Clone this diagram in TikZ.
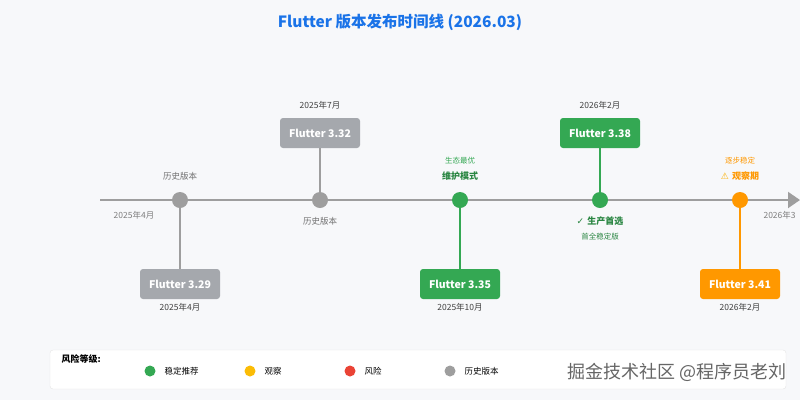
\documentclass[tikz,border=0pt]{standalone}
\usepackage{fontspec}
\setmainfont{Noto Sans CJK SC}
\usetikzlibrary{arrows.meta}
\definecolor{bg}{HTML}{F7F8FA}
\definecolor{gr}{HTML}{9E9E9E}
\definecolor{gbox}{HTML}{A5A8AD}
\definecolor{grn}{HTML}{34A853}
\definecolor{org}{HTML}{FF9800}
\definecolor{ylw}{HTML}{FBBC05}
\definecolor{red}{HTML}{EA4335}
\definecolor{ttl}{HTML}{1A73E8}
\tikzset{
  ver/.style={rounded corners=3pt, text=white, font=\bfseries\fontsize{10.5}{12}\selectfont, minimum width=80pt, minimum height=30pt, inner sep=0pt},
  dot/.style={circle, minimum size=16pt, inner sep=0pt},
  small/.style={font=\fontsize{7.5}{8}\selectfont},
  lab/.style={font=\fontsize{8.5}{9}\selectfont},
  blab/.style={font=\bfseries\fontsize{9}{10}\selectfont}
}
\begin{document}
\begin{tikzpicture}[x=1pt,y=-1pt]
\fill[bg] (0,0) rectangle (800,400);
\useasboundingbox (0,0) rectangle (800,400);
\node[text=ttl, font=\bfseries\fontsize{15.5}{17}\selectfont] (title) at (400,22) {Flutter 版本发布时间线 (2026.03)};
\coordinate (axs) at (100,200);
\coordinate (axe) at (800,200);
\draw[gr, line width=2pt, -{Triangle[length=12pt,width=16pt]}] (axs) -- (axe);
\node[dot, fill=gr] (d1) at (180,200) {};
\node[dot, fill=gr] (d2) at (320,200) {};
\node[dot, fill=grn] (d3) at (460,200) {};
\node[dot, fill=grn] (d4) at (600,200) {};
\node[dot, fill=org] (d5) at (740,200) {};
\node[ver, fill=gbox] (v1) at (180,284) {Flutter 3.29};
\node[ver, fill=gbox] (v2) at (320,133) {Flutter 3.32};
\node[ver, fill=grn] (v3) at (460,284) {Flutter 3.35};
\node[ver, fill=grn] (v4) at (600,133) {Flutter 3.38};
\node[ver, fill=org] (v5) at (740,284) {Flutter 3.41};
\draw[gr, line width=1.3pt] (d1) -- (v1);
\draw[gr, line width=1.3pt] (d2) -- (v2);
\draw[grn, line width=1.3pt] (d3) -- (v3);
\draw[grn, line width=1.3pt] (d4) -- (v4);
\draw[org, line width=1.3pt] (d5) -- (v5);
\node[lab, text=black!75] (t1) at (180,307) {2025年4月};
\node[lab, text=black!75] (t2) at (320,105) {2025年7月};
\node[lab, text=black!75] (t3) at (460,307) {2025年10月};
\node[lab, text=black!75] (t4) at (600,105) {2026年2月};
\node[lab, text=black!75] (t5) at (740,307) {2026年2月};
\node[lab, text=gr!80!black] (s1) at (134,215) {2025年4月};
\node[lab, text=gr!80!black, anchor=west] (s2) at (760,215) {2026年3};
\node[lab, text=gr!70!black] (h1) at (180,176) {历史版本};
\node[lab, text=gr!70!black] (h2) at (320,221) {历史版本};
\node[small, text=grn] (e1) at (460,161) {生态最优};
\node[blab, text=grn!80!black] (e2) at (460,176) {维护模式};
\node[blab, text=grn!80!black] (p1) at (600,221) {\fontspec{DejaVu Sans}✓\ \fontspec{Noto Sans CJK SC}生产首选};
\node[small, text=grn!80!black] (p2) at (600,237) {首全稳定版};
\node[small, text=org] (o1) at (740,161) {逐步稳定};
\node[blab, text=org] (o2) at (740,176) {\fontspec{DejaVu Sans}\textcolor{ylw!80!orange}{⚠}\ \fontspec{Noto Sans CJK SC}观察期};
\draw[black!10, fill=white, rounded corners=3pt] (50,350) rectangle (786,389);
\node[anchor=west, font=\bfseries\fontsize{9}{10}\selectfont] (lg) at (58,359) {风险等级:};
\node[dot, minimum size=11pt, fill=grn] (l1) at (150,371) {};
\node[lab, anchor=west] (l1t) at (161,371) {稳定推荐};
\node[dot, minimum size=11pt, fill=ylw] (l2) at (250,371) {};
\node[lab, anchor=west] (l2t) at (261,371) {观察};
\node[dot, minimum size=11pt, fill=red] (l3) at (350,371) {};
\node[lab, anchor=west] (l3t) at (361,371) {风险};
\node[dot, minimum size=11pt, fill=gr] (l4) at (450,371) {};
\node[lab, anchor=west] (l4t) at (461,371) {历史版本};
\node[font=\fontsize{18}{20}\selectfont, text=black!60, anchor=east] (wm) at (790,372) {掘金技术社区 @程序员老刘};
\end{tikzpicture}
\end{document}
